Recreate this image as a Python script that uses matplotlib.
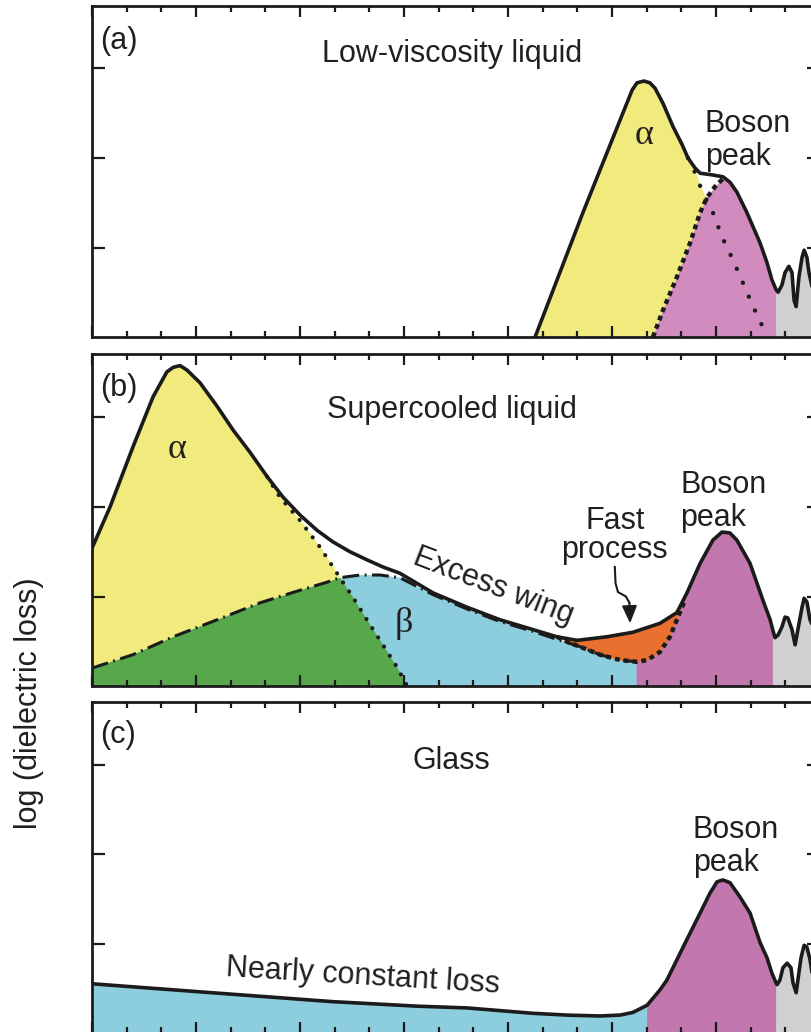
import numpy as np
import matplotlib.pyplot as plt
from matplotlib.ticker import MultipleLocator, FixedLocator

plt.rcParams['font.family'] = ['Liberation Sans', 'DejaVu Sans']

# x in minor-tick units (0..21), y in major-tick units

# (a) low-viscosity liquid
a_total_x = [12.78, 14.16, 15.58, 15.72, 15.92, 16.09, 16.24, 16.47, 16.76, 17.02, 17.19, 17.39,
             17.54, 17.91, 18.20, 18.40, 18.60, 18.89, 19.27, 19.47, 19.61, 19.73, 19.79, 19.90,
             19.99, 20.10, 20.19, 20.25, 20.31, 20.39, 20.48, 20.54, 20.62, 20.68, 20.77, 20.88, 21.0]
a_total_y = [0.0, 1.39, 2.76, 2.84, 2.86, 2.84, 2.78, 2.61, 2.35, 2.15, 2.00, 1.89,
             1.83, 1.81, 1.79, 1.73, 1.62, 1.39, 1.05, 0.83, 0.64, 0.53, 0.50, 0.58,
             0.72, 0.79, 0.72, 0.41, 0.34, 0.67, 0.89, 0.97, 0.89, 0.72, 0.56, 0.64, 0.80]
a_alpha_x = [12.78, 14.16, 15.58, 15.72, 15.92, 16.09, 16.24, 16.47, 16.76, 17.02, 17.19,
             17.31, 17.59, 17.91, 18.17, 18.49, 18.78, 19.07, 19.36, 19.50]
a_alpha_y = [0.0, 1.39, 2.76, 2.84, 2.86, 2.84, 2.78, 2.61, 2.35, 2.15, 2.00,
             1.92, 1.64, 1.39, 1.12, 0.86, 0.60, 0.34, 0.10, 0.0]
a_boson_x = [16.18, 16.47, 16.87, 17.25, 17.54, 17.74, 17.97, 18.20, 18.40, 18.60, 18.89,
             19.27, 19.47, 19.61, 19.73]
a_boson_y = [0.0, 0.30, 0.67, 1.05, 1.39, 1.56, 1.68, 1.77, 1.73, 1.62, 1.39,
             1.05, 0.83, 0.64, 0.53]
a_gray_start = 19.73

# (b) supercooled liquid
b_total_x = [0.0, 0.52, 1.18, 1.76, 2.16, 2.34, 2.54, 2.74, 3.11, 3.60, 4.07, 4.56, 5.05,
             5.51, 6.00, 6.49, 6.95, 7.44, 7.93, 8.39, 8.88, 9.84, 10.82, 11.77, 12.72,
             13.41, 13.99, 14.85, 15.60, 16.38, 16.87, 17.16, 17.54, 17.91, 18.17, 18.40,
             18.60, 18.98, 19.35, 19.56, 19.64, 19.70, 19.79, 19.90, 19.99, 20.07, 20.19,
             20.28, 20.36, 20.48, 20.54, 20.62, 20.71, 20.85, 21.0]
b_total_y = [1.54, 2.00, 2.67, 3.23, 3.51, 3.56, 3.58, 3.53, 3.39, 3.13, 2.86, 2.61, 2.34,
             2.11, 1.91, 1.74, 1.61, 1.50, 1.41, 1.33, 1.26, 1.04, 0.88, 0.74, 0.63,
             0.55, 0.51, 0.55, 0.60, 0.70, 0.82, 1.04, 1.37, 1.63, 1.72, 1.71,
             1.63, 1.37, 0.96, 0.74, 0.62, 0.54, 0.57, 0.66, 0.77, 0.76, 0.63,
             0.46, 0.63, 0.88, 0.98, 0.94, 0.74, 0.62, 0.85]
b_alpha_x = [0.0, 0.52, 1.18, 1.76, 2.16, 2.34, 2.54, 2.74, 3.11, 3.60, 4.07, 4.56, 5.05,
             5.42, 6.00, 6.58, 6.95, 7.15, 7.53, 7.93, 8.31, 8.80, 9.09]
b_alpha_y = [1.54, 2.00, 2.67, 3.23, 3.51, 3.56, 3.58, 3.53, 3.39, 3.13, 2.86, 2.61, 2.34,
             2.11, 1.85, 1.55, 1.33, 1.21, 0.99, 0.74, 0.51, 0.21, 0.0]
b_beta_x = [0.0, 1.18, 2.34, 3.61, 4.85, 6.00, 6.78, 7.15, 7.73, 8.31, 8.88, 9.84,
            10.82, 11.77, 12.72, 13.50, 14.07, 14.65, 15.23, 15.72]
b_beta_y = [0.20, 0.35, 0.55, 0.74, 0.93, 1.07, 1.16, 1.21, 1.24, 1.24, 1.21, 1.02,
            0.86, 0.72, 0.61, 0.51, 0.44, 0.35, 0.29, 0.27]
b_lower_x = [13.41, 13.79, 14.07, 14.65, 15.23, 15.72, 16.01, 16.38, 16.67, 16.90, 17.07]
b_lower_y = [0.55, 0.48, 0.44, 0.35, 0.29, 0.27, 0.29, 0.38, 0.55, 0.77, 0.93]
b_blue_end = 15.72
b_gray_start = 19.64
b_arrow_x = [15.08, 15.10, 15.17, 15.40, 15.50]
b_arrow_y = [1.33, 1.15, 1.05, 1.00, 0.93]
b_arrow_tip = (15.52, 0.70)

# (c) glass
c_total_x = [0.0, 3.11, 6.95, 9.37, 10.82, 12.72, 13.70, 14.65, 15.23, 15.60, 16.01, 16.38,
             16.58, 17.05, 17.54, 17.82, 18.03, 18.20, 18.40, 18.69, 18.98, 19.27, 19.47,
             19.61, 19.73, 19.76, 19.84, 19.93, 20.05, 20.16, 20.22, 20.31, 20.36, 20.45,
             20.54, 20.62, 20.71, 20.77, 20.90, 21.0]
c_total_y = [0.55, 0.46, 0.35, 0.30, 0.28, 0.22, 0.20, 0.19, 0.20, 0.23, 0.31, 0.48,
             0.59, 0.96, 1.34, 1.56, 1.69, 1.71, 1.68, 1.52, 1.34, 1.01, 0.84,
             0.67, 0.56, 0.54, 0.59, 0.73, 0.78, 0.73, 0.56, 0.45, 0.59, 0.84,
             0.98, 0.96, 0.82, 0.67, 0.60, 0.80]
c_blue_end = 16.01
c_gray_start = 19.73

YEL = '#F1EA7D'
PINK_A = '#D18BBE'
PINK = '#C278AE'
BLUE = '#8DCEDE'
GREEN = '#56A84B'
ORANGE = '#E9702F'
GRAY = '#CFD0D2'
INK = '#1b1b1b'
TXT = '#231f20'
FS = 22

W, H = 812, 1032
X0, PXX, PXY = 92, 34.67, 89.5
panels = [(6, 337), (354, 686), (702, 1033)]

fig = plt.figure(figsize=(W / 100, H / 100), dpi=100)
axes = []
for top, bot in panels:
    ax = fig.add_axes([X0 / W, 1 - bot / H, 21 * PXX / W, (bot - top) / H])
    ax.set_xlim(0, 21)
    ax.set_ylim(0, (bot - top) / PXY)
    ax.xaxis.set_major_locator(MultipleLocator(3))
    ax.xaxis.set_minor_locator(MultipleLocator(1))
    ax.yaxis.set_major_locator(FixedLocator([1, 2, 3]))
    ax.tick_params(which='both', direction='in', top=True, right=True,
                   labelbottom=False, labelleft=False, color=INK, width=1.6)
    ax.tick_params(axis='x', which='major', length=8)
    ax.tick_params(axis='x', which='minor', length=4.5)
    ax.tick_params(axis='y', which='major', length=9.5)
    for s in ax.spines.values():
        s.set_linewidth(2.0)
        s.set_color(INK)
        s.set_zorder(5)
    axes.append(ax)

ax_a, ax_b, ax_c = axes
fk = dict(lw=0.6)
tk = dict(color=INK, lw=2.6, zorder=4, solid_joinstyle='round', solid_capstyle='round')

# ---- (a)
ax = ax_a
ax.fill_between(a_alpha_x, 0, a_alpha_y, color=YEL, **fk)
ax.fill_between(a_boson_x, 0, a_boson_y, color=PINK_A, **fk)
atx = np.array(a_total_x)
ax.fill_between(atx, 0, a_total_y, where=atx >= a_gray_start, color=GRAY, **fk)
ax.plot(a_alpha_x[10:], a_alpha_y[10:], color=INK, lw=3.2, ls=(0, (0.01, 3.4)),
        dash_capstyle='round')
ax.plot(a_boson_x[:8], a_boson_y[:8], color=INK, lw=3.2, ls=(0, (1.1, 0.9)))
ax.plot(a_total_x, a_total_y, **tk)
ax.text(0.23, 3.31, '(a)', fontsize=FS, color=TXT, va='center')
ax.text(10.38, 3.07, 'Low-viscosity liquid', fontsize=FS, color=TXT, ha='center')
ax.text(17.68, 2.29, 'Boson', fontsize=FS, color=TXT)
ax.text(17.68, 1.92, 'peak', fontsize=FS, color=TXT)
ax.text(15.92, 2.25, 'α', fontsize=26, color=TXT, family='Liberation Serif',
        ha='center', va='center')

# ---- (b)
ax = ax_b
yel = ax.fill_between(b_alpha_x, 0, b_alpha_y, color=YEL, **fk)
ax.fill_between(b_beta_x, 0, b_beta_y, color=BLUE, **fk)
grn = ax.fill_between(b_beta_x, 0, b_beta_y, color=GREEN, **fk)
grn.set_clip_path(yel.get_paths()[0], ax.transData)

btx, bty = np.array(b_total_x), np.array(b_total_y)
blx, bly = np.array(b_lower_x), np.array(b_lower_y)
m1 = blx >= b_blue_end
m2 = (btx > blx[-1]) & (btx <= b_gray_start)
ax.fill(np.concatenate([[b_blue_end], blx[m1], btx[m2], [b_gray_start]]),
        np.concatenate([[0], bly[m1], bty[m2], [0]]), color=PINK, **fk)
m3 = (btx >= blx[0]) & (btx <= 17.16)
ax.fill(np.concatenate([btx[m3], blx[::-1]]), np.concatenate([bty[m3], bly[::-1]]),
        color=ORANGE, **fk)
ax.fill_between(btx, 0, bty, where=btx >= b_gray_start, color=GRAY, **fk)

ax.plot(b_beta_x, b_beta_y, color=INK, lw=2.2, ls=(0, (5.5, 1.8, 0.6, 1.8)))
ax.plot(b_alpha_x[12:], b_alpha_y[12:], color=INK, lw=3.0, ls=(0, (0.01, 2.6)),
        dash_capstyle='round')
ax.plot(b_lower_x, b_lower_y, color=INK, lw=3.2, ls=(0, (1.1, 0.9)))
ax.plot(b_total_x, b_total_y, **tk)
ax.plot(b_arrow_x, b_arrow_y, color=INK, lw=1.5)
ax.annotate('', xy=b_arrow_tip, xytext=(b_arrow_x[-1], b_arrow_y[-1]),
            arrowprops=dict(arrowstyle='-|>,head_length=0.7,head_width=0.3',
                            color=INK, lw=1.5, mutation_scale=15, shrinkA=0, shrinkB=0))
ax.text(0.23, 3.33, '(b)', fontsize=FS, color=TXT, va='center')
ax.text(10.38, 2.99, 'Supercooled liquid', fontsize=FS, color=TXT, ha='center')
ax.text(16.96, 2.16, 'Boson', fontsize=FS, color=TXT)
ax.text(16.96, 1.79, 'peak', fontsize=FS, color=TXT)
ax.text(15.08, 1.75, 'Fast', fontsize=FS, color=TXT, ha='center')
ax.text(15.07, 1.43, 'process', fontsize=FS, color=TXT, ha='center')
ax.text(11.57, 1.11, 'Excess wing', fontsize=FS, color=TXT, ha='center', va='center',
        rotation=-21, rotation_mode='anchor')
ax.text(2.45, 2.64, 'α', fontsize=26, color=TXT, family='Liberation Serif',
        ha='center', va='center')
ax.text(9.0, 0.70, 'β', fontsize=26, color=TXT, family='Liberation Serif',
        ha='center', va='center')

# ---- (c)
ax = ax_c
ctx = np.array(c_total_x)
ax.fill_between(ctx, 0, c_total_y, where=ctx <= c_blue_end, color=BLUE, **fk)
ax.fill_between(ctx, 0, c_total_y, where=(ctx >= c_blue_end) & (ctx <= c_gray_start),
                color=PINK, **fk)
ax.fill_between(ctx, 0, c_total_y, where=ctx >= c_gray_start, color=GRAY, **fk)
ax.plot(c_total_x, c_total_y, **tk)
ax.text(0.23, 3.33, '(c)', fontsize=FS, color=TXT, va='center')
ax.text(10.38, 2.95, 'Glass', fontsize=FS, color=TXT, ha='center')
ax.text(17.33, 2.18, 'Boson', fontsize=FS, color=TXT)
ax.text(17.33, 1.81, 'peak', fontsize=FS, color=TXT)
ax.text(7.82, 0.63, 'Nearly constant loss', fontsize=FS, color=TXT, ha='center',
        va='center', rotation=-3.5, rotation_mode='anchor')

fig.text(29 / W, 1 - 703 / H, 'log (dielectric loss)', fontsize=FS, color=TXT,
         rotation=90, ha='center', va='center')

fig.savefig('out.png', dpi=100)
